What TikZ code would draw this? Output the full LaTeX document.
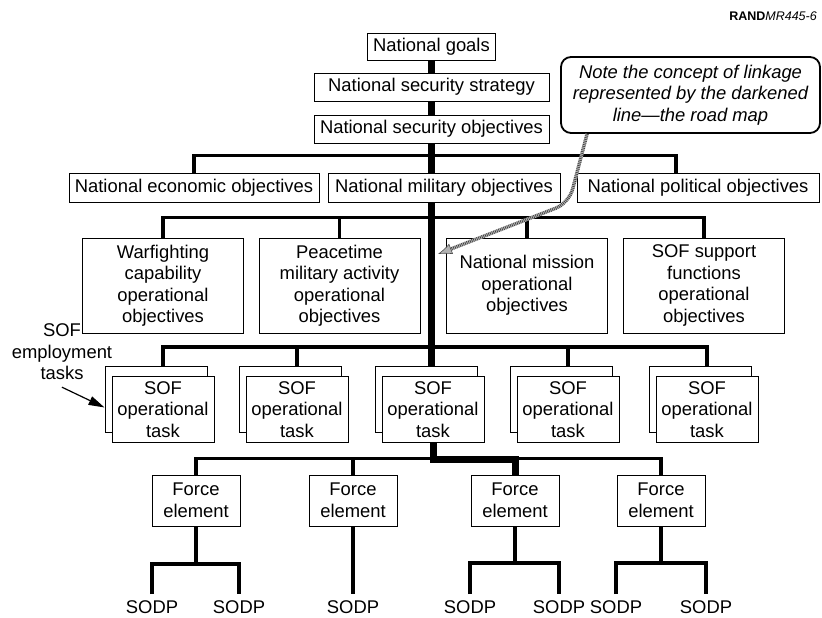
\documentclass[tikz,border=0pt]{standalone}
\usepackage{fontspec}
\setmainfont{Liberation Sans}
\usetikzlibrary{arrows.meta}
\begin{document}
\begin{tikzpicture}[x=1pt, y=-1pt]
	\tikzset{bx/.style={draw=black, line width=0.9pt, fill=white, inner sep=0pt, align=center, font=\fontsize{18.4}{21.5}\selectfont},
		ob/.style={minimum width=161pt, minimum height=95pt},
		tk/.style={minimum width=102pt, minimum height=66pt},
		fe/.style={minimum width=88pt, minimum height=51pt},
		sd/.style={inner sep=0pt, outer sep=7pt, anchor=north, font=\fontsize{18.4}{21.5}\selectfont},
		ln/.style={line width=3.4pt},
		road/.style={line width=7pt},
		hatch/.style={draw=black!75, line width=3.4pt, rounded corners=14pt, dash pattern=on 0.7pt off 1.1pt,
			-{Latex[length=14pt,width=11pt,color=black!70,fill=gray!60,line width=0.6pt]},
			preaction={draw=gray!55, line width=3.4pt, solid, arrows=-, shorten >=8pt}}};

	\useasboundingbox (0,0) rectangle (822,618);

	\node[anchor=base east, inner sep=0pt, font=\fontsize{12.5}{14}\selectfont] (rand) at (817,21) {\textbf{RAND}\textit{MR445-6}};

	\node[bx, minimum width=128pt, minimum height=27pt] (g) at (431.5,46.5) {National goals};
	\node[bx, minimum width=235pt, minimum height=28pt] (st) at (431.5,87) {National security strategy};
	\node[bx, minimum width=235pt, minimum height=28pt] (so) at (431.5,129) {National security objectives};
	\node[bx, rounded corners=10pt, line width=1.8pt, minimum width=259pt, minimum height=76pt, font=\fontsize{18.4}{21.5}\selectfont\itshape] (note) at (690.5,95) {Note the concept of linkage\\represented by the darkened\\line\textemdash the road map};

	\node[bx, minimum width=250pt, minimum height=29pt] (e) at (194,187.5) {National economic objectives};
	\node[bx, minimum width=232pt, minimum height=29pt] (m) at (444,187.5) {National military objectives};
	\node[bx, minimum width=242pt, minimum height=29pt] (p) at (698,187.5) {National political objectives};

	\node[bx, ob] (w) at (163,285.5) {Warfighting\\capability\\operational\\objectives};
	\node[bx, ob] (pc) at (339.5,285.5) {Peacetime\\military activity\\operational\\objectives};
	\node[bx, ob] (nm) at (527,285.5) {National mission\\operational\\objectives};
	\node[bx, ob] (sf) at (704,285.5) {SOF support\\functions\\operational\\objectives};

	\node[bx, tk] (b1) at (156,399.5) {};
	\node[bx, tk] (b2) at (290,399.5) {};
	\node[bx, tk] (b3) at (426,399.5) {};
	\node[bx, tk] (b4) at (561,399.5) {};
	\node[bx, tk] (b5) at (700,399.5) {};
	\node[bx, tk] (f1) at (163,409.5) {SOF\\operational\\task};
	\node[bx, tk] (f2) at (297,409.5) {SOF\\operational\\task};
	\node[bx, tk] (f3) at (433,409.5) {SOF\\operational\\task};
	\node[bx, tk] (f4) at (568,409.5) {SOF\\operational\\task};
	\node[bx, tk] (f5) at (707,409.5) {SOF\\operational\\task};

	\node[inner sep=0pt, align=center, font=\fontsize{18.4}{21.5}\selectfont] (emp) at (62,352) {SOF\\employment\\tasks};

	\node[bx, fe] (fe1) at (196,500.5) {Force\\element};
	\node[bx, fe] (fe2) at (353,500.5) {Force\\element};
	\node[bx, fe] (fe3) at (515,500.5) {Force\\element};
	\node[bx, fe] (fe4) at (661,500.5) {Force\\element};

	\node[sd] (sd1) at (152,594) {SODP};
	\node[sd] (sd2) at (239,594) {SODP};
	\node[sd] (sd3) at (353,594) {SODP};
	\node[sd] (sd4) at (470,594) {SODP};
	\node[sd] (sd5) at (559,594) {SODP};
	\node[sd] (sd6) at (616,594) {SODP};
	\node[sd] (sd7) at (706,594) {SODP};

	\draw[ln] (e.north) -- ++(0,-17) -| ([xshift=-22pt]p.north);

	\draw[ln] (w.north) -- ++(0,-20) -| (sf.north);
	\draw[ln] (pc.north) -- ++(0,-20);
	\draw[ln] (nm.north) -- ++(0,-20);

	\draw[ln] (b1.north -| f1.north) -- ++(0,-19) -| (b5.north -| f5.north);
	\draw[ln] (b2.north -| f2.north) -- ++(0,-19);
	\draw[ln] (b4.north -| f4.north) -- ++(0,-19);

	\draw[ln] (fe1.north) -- ++(0,-16) -| (fe4.north);
	\draw[ln] (fe2.north) -- ++(0,-16);

	\draw[ln] (fe1.south) -- ++(0,38);
	\draw[ln] (sd1.north) -- ++(0,-30) -| (sd2.north);
	\draw[ln] (fe2.south) to (sd3.north);
	\draw[ln] (fe3.south) -- ++(0,37);
	\draw[ln] (sd4.north) -- ++(0,-31) -| (sd5.north);
	\draw[ln] (fe4.south) -- ++(0,37);
	\draw[ln] (sd6.north) -- ++(0,-31) -| (sd7.north);

	\draw[road] (g.south) to (st.north);
	\draw[road] (st.south) to (so.north);
	\draw[road] (so.south) to (so.south |- m.north);
	\draw[road] (so.south |- m.south) to (so.south |- b3.north);
	\draw[road] (f3.south) -- ++(0,17) -| (fe3.north);

	\coordinate (tip) at (438,254);
	\draw[hatch] ([xshift=27pt]note.south west) -- (569,203) -- (tip);

	\draw[line width=1.2pt, -{Triangle[length=16pt,width=9pt]}] ([yshift=-7pt]emp.south) to ([yshift=-8pt]b1.west);
\end{tikzpicture}
\end{document}
